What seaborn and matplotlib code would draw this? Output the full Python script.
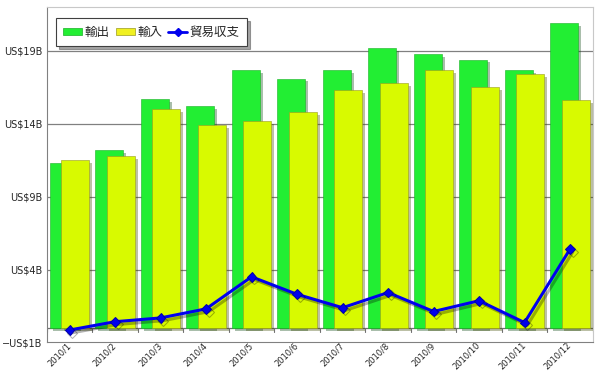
import matplotlib
matplotlib.use('Agg')
import matplotlib.pyplot as plt
import matplotlib.patheffects as pe
from matplotlib.patches import Patch
from matplotlib.lines import Line2D
import seaborn as sns
import numpy as np
import pandas as pd

# data (billions of US$)
months = ["2010/1", "2010/2", "2010/3", "2010/4", "2010/5", "2010/6",
          "2010/7", "2010/8", "2010/9", "2010/10", "2010/11", "2010/12"]
exports = [11.3, 12.2, 15.7, 15.2, 17.7, 17.1, 17.7, 19.2, 18.8, 18.4, 17.7, 20.9]
imports = [11.5, 11.8, 15.0, 13.9, 14.2, 14.8, 16.3, 16.8, 17.7, 16.5, 17.4, 15.6]
balance = [-0.15, 0.42, 0.68, 1.3, 3.5, 2.3, 1.38, 2.42, 1.12, 1.86, 0.36, 5.4]
yticks = [-1, 4, 9, 14, 19]
ytick_labels = ["\u2212US$1B", "US$4B", "US$9B", "US$14B", "US$19B"]

sns.set_style("white")
plt.rcParams['font.family'] = ['Noto Sans CJK JP', 'DejaVu Sans']

fig = plt.figure(figsize=(6, 3.73), dpi=100)
ax = fig.add_axes([0.078, 0.082, 0.910, 0.899])

df = pd.DataFrame({"month": months, "exports": exports, "imports": imports})
shadow = [pe.SimplePatchShadow(offset=(2, -2), alpha=0.35), pe.Normal()]

green = "#22ee33"
yellow = "#d8fa00"
bar_w = 0.62
shift = 0.125

sns.barplot(data=df, x="month", y="exports", color=green, width=bar_w,
            saturation=1, ax=ax, zorder=2)
n_green = len(ax.patches)
sns.barplot(data=df, x="month", y="imports", color=yellow, width=bar_w,
            saturation=1, ax=ax, zorder=3)
for i, p in enumerate(ax.patches):
    off = -shift if i < n_green else shift
    p.set_x(p.get_x() + off)
    p.set_path_effects(shadow)
    p.set_edgecolor("#9a9a20" if i >= n_green else "#18b025")
    p.set_linewidth(0.4)

sns.lineplot(x=np.arange(len(months)), y=balance, color="#0000ee", lw=2.2,
             marker="D", markersize=5, markeredgecolor="#0000aa", ax=ax, zorder=5,
             path_effects=[pe.SimpleLineShadow(offset=(2, -2), alpha=0.3), pe.Normal()])

ax.set_xlim(-0.5, len(months) - 0.5)
ax.set_ylim(-1, 22)
ax.set_yticks(yticks)
ax.set_yticklabels(ytick_labels, fontsize=7, family=['DejaVu Sans'])
ax.set_xticks(np.arange(len(months)))
ax.set_xticklabels(months, rotation=45, ha="right", va="center", rotation_mode="anchor",
                   fontsize=6, family=['DejaVu Sans'])
ax.tick_params(axis="y", length=0, pad=3)
ax.tick_params(axis="x", length=0, pad=1)
ax.set_xlabel("")
ax.set_ylabel("")

for v in [4, 9, 14, 19]:
    ax.axhline(v, color="#808080", lw=0.9, zorder=1)
ax.axhline(0, color="#707070", lw=0.9, zorder=1)
for b in np.arange(len(months) + 1) - 0.5:
    ax.plot([b, b], [0, -0.3], color="#707070", lw=0.8, zorder=1)

for side in ["left", "bottom"]:
    ax.spines[side].set_color("#808080")
for side in ["top", "right"]:
    ax.spines[side].set_color("#c8c8c8")

handles = [Patch(facecolor=green, edgecolor="#18b025", lw=0.5),
           Patch(facecolor="#f0f020", edgecolor="#9a9a20", lw=0.5),
           Line2D([0], [0], color="#0000ee", lw=2, marker="D", markersize=4)]
leg = ax.legend(handles, ["輸出", "輸入", "貿易収支"], loc="upper left",
                ncol=3, fontsize=9, frameon=True, fancybox=False, shadow=True,
                handlelength=1.5, handleheight=0.45, handletextpad=0.2,
                columnspacing=0.5, borderpad=0.6, bbox_to_anchor=(0.005, 0.985))
leg.get_frame().set_edgecolor("#404040")
leg.get_frame().set_linewidth(0.8)

fig.savefig("out.png", dpi=100)
